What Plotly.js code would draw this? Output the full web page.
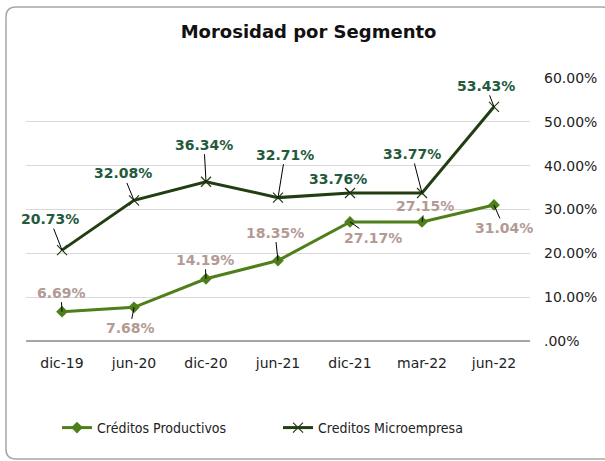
<!DOCTYPE html>
<html>
<head>
<meta charset="utf-8">
<script src="https://cdn.plot.ly/plotly-3.0.1.min.js"></script>
<style>
html,body{margin:0;padding:0;background:#fff;}
#chart{width:605px;height:461px;}
</style>
</head>
<body>
<div id="chart"></div>
<script>
// ---- data ----
var categories = ['dic-19','jun-20','dic-20','jun-21','dic-21','mar-22','jun-22'];
var productivos = [6.69, 7.68, 14.19, 18.35, 27.17, 27.15, 31.04];
var microempresa = [20.73, 32.08, 36.34, 32.71, 33.76, 33.77, 53.43];
var seriesNames = ['Créditos Productivos', 'Creditos Microempresa'];
var yTickVals = [0, 10, 20, 30, 40, 50, 60];
var yTickText = ['.00%', '10.00%', '20.00%', '30.00%', '40.00%', '50.00%', '60.00%'];

// ---- label offsets (pixels, layout only) ----
var prodOffsets = [[-1,-19],[-4,21],[-1,-19],[-3,-28],[23,16],[3,-16],[10,23]];
var microOffsets = [[-12,-31],[-11,-27],[-2,-37],[7,-43],[-12,-14],[-10,-39],[-8,-21]];

var colProd = '#4f7f1b', colMicro = '#213d11';
var colProdLbl = '#b39a94', colMicroLbl = '#245a3c';
var legendFont = {family: "'DejaVu Sans Condensed', 'DejaVu Sans'", size: 14, color: '#222'};

var traces = [
  {x: categories, y: productivos, name: seriesNames[0], type: 'scatter', mode: 'lines+markers', legend: 'legend',
   line: {color: colProd, width: 3}, marker: {symbol: 'diamond', size: 9, color: colProd}, cliponaxis: false},
  {x: categories, y: microempresa, name: seriesNames[1], type: 'scatter', mode: 'lines+markers', legend: 'legend2',
   line: {color: colMicro, width: 3}, marker: {symbol: 'x-thin', size: 10, line: {color: colMicro, width: 1.2}, color: colMicro}, cliponaxis: false}
];

function lbl(v, i, off, col) {
  return {x: categories[i], y: v, xref: 'x', yref: 'y', text: v.toFixed(2) + '%',
    showarrow: true, arrowhead: 0, arrowwidth: 1, arrowcolor: '#000', ax: off[0], ay: off[1],
    standoff: 0, font: {family: 'DejaVu Sans', size: 14, color: col, weight: 'bold'}};
}
var annotations = [];
productivos.forEach(function(v,i){ annotations.push(lbl(v,i,prodOffsets[i],colProdLbl)); });
microempresa.forEach(function(v,i){ annotations.push(lbl(v,i,microOffsets[i],colMicroLbl)); });

var layout = {
  width: 605, height: 461,
  margin: {l: 26, r: 75, t: 78, b: 120},
  paper_bgcolor: '#fff', plot_bgcolor: '#fff',
  font: {family: 'DejaVu Sans', size: 14, color: '#222'},
  title: {text: '<b>Morosidad por Segmento</b>', font: {family: 'DejaVu Sans', size: 18, color: '#111'},
          x: 0.51, xanchor: 'center', y: 1 - 32/461, yanchor: 'middle', yref: 'container'},
  showlegend: true,
  legend: {orientation: 'h', xref: 'container', yref: 'container', x: 57/605, y: 1 - 428/461,
           xanchor: 'left', yanchor: 'middle', font: legendFont, bgcolor: 'rgba(0,0,0,0)'},
  legend2: {orientation: 'h', xref: 'container', yref: 'container', x: 278/605, y: 1 - 428/461,
           xanchor: 'left', yanchor: 'middle', font: legendFont, bgcolor: 'rgba(0,0,0,0)'},
  xaxis: {type: 'category', range: [-0.5, 6.5], showgrid: false, zeroline: false,
          showline: false, ticks: '', ticklabelstandoff: 12, tickfont: {size: 14, color: '#222'}, fixedrange: true},
  yaxis: {side: 'right', range: [0, 60], tickvals: yTickVals, ticktext: yTickText,
          showgrid: true, gridcolor: '#d9d9d9', gridwidth: 1, zeroline: true, zerolinecolor: '#a6a6a6', zerolinewidth: 1.5,
          ticks: '', ticklabelstandoff: 13, tickfont: {size: 14, color: '#222'}, fixedrange: true},
  annotations: annotations,
  shapes: [{type: 'path', xref: 'paper', yref: 'paper', layer: 'below',
    path: (function(){
      var W = 504, H = 263; // plot area in px
      function px(x){ return ((x - 26) / W).toFixed(4); }
      function py(y){ return ((341 - y) / H).toFixed(4); }
      var L=6, T=7, R=612, B=459, r=10;
      return 'M'+px(L+r)+','+py(T)+' L'+px(R-r)+','+py(T)+' Q'+px(R)+','+py(T)+' '+px(R)+','+py(T+r)+
             ' L'+px(R)+','+py(B-r)+' Q'+px(R)+','+py(B)+' '+px(R-r)+','+py(B)+
             ' L'+px(L+r)+','+py(B)+' Q'+px(L)+','+py(B)+' '+px(L)+','+py(B-r)+
             ' L'+px(L)+','+py(T+r)+' Q'+px(L)+','+py(T)+' '+px(L+r)+','+py(T)+' Z';
    })(),
    line: {color: '#a6a6a6', width: 1.5}}]
};

Plotly.newPlot('chart', traces, layout, {displayModeBar: false, staticPlot: true});
</script>
</body>
</html>
